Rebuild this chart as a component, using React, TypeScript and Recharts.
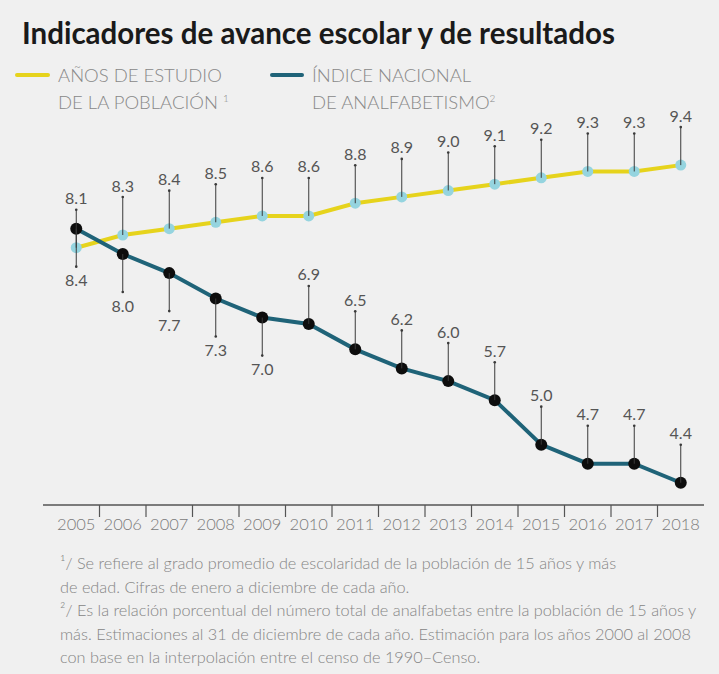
import React from 'react';
import { LineChart, Line, XAxis, YAxis, LabelList } from 'recharts';

const years = ['2005', '2006', '2007', '2008', '2009', '2010', '2011', '2012', '2013', '2014', '2015', '2016', '2017', '2018'];
const anosEstudio = [8.1, 8.3, 8.4, 8.5, 8.6, 8.6, 8.8, 8.9, 9.0, 9.1, 9.2, 9.3, 9.3, 9.4];
const analfabetismo = [8.4, 8.0, 7.7, 7.3, 7.0, 6.9, 6.5, 6.2, 6.0, 5.7, 5.0, 4.7, 4.7, 4.4];
// years whose illiteracy label sits under the point
const labelsBelow = ['2005', '2006', '2007', '2008', '2009'];

const notes = [
  '¹/ Se refiere al grado promedio de escolaridad de la población de 15 años y más',
  'de edad. Cifras de enero a diciembre de cada año.',
  '²/ Es la relación porcentual del número total de analfabetas entre la población de 15 años y',
  'más. Estimaciones al 31 de diciembre de cada año. Estimación para los años 2000 al 2008',
  'con base en la interpolación entre el censo de 1990–Censo.',
];

const data = years.map((y, i) => ({
  year: y,
  anos: anosEstudio[i],
  indice: analfabetismo[i],
}));

const FONT = 'Lato, "Open Sans", sans-serif';
const YELLOW = '#e6d31c';
const TEAL = '#1f6378';
const LEAD = 38;
const STEP = 46.5;

function leaderLabel(props: any, below: boolean) {
  const { x, y, value } = props;
  if (x == null || y == null) return null;
  const end = below ? y + LEAD : y - LEAD;
  const ty = below ? end + 13 : end - 12;
  return (
    <g>
      <line x1={x} y1={y} x2={x} y2={end} stroke="#3a3a3a" strokeWidth={1} />
      <circle cx={x} cy={end} r={1.3} fill="#3a3a3a" />
      <text
        x={x}
        y={ty}
        textAnchor="middle"
        dominantBaseline="central"
        fontFamily={FONT}
        fontSize={16}
        fill="#555"
      >
        {Number(value).toFixed(1)}
      </text>
    </g>
  );
}

function YellowLabel(props: any) {
  return leaderLabel(props, false);
}

function TealLabel(props: any) {
  const below = labelsBelow.includes(years[props.index]);
  return leaderLabel(props, below);
}

function YearTick(props: any) {
  const { x, y, payload, index } = props;
  const last = index === years.length - 1;
  return (
    <g>
      {!last && (
        <line x1={x + STEP / 2} y1={y} x2={x + STEP / 2} y2={y + 12} stroke="#555" strokeWidth={1.2} />
      )}
      <text
        x={x}
        y={y + 19}
        textAnchor="middle"
        dominantBaseline="central"
        fontFamily={FONT}
        fontSize={16.5}
        fontWeight={300}
        fill="#7a7a7a"
      >
        {payload.value}
      </text>
    </g>
  );
}

function YellowDot(props: any) {
  const { cx, cy } = props;
  if (cx == null || cy == null) return null;
  return <circle cx={cx} cy={cy} r={5.5} fill="#95d4df" />;
}

function TealDot(props: any) {
  const { cx, cy } = props;
  if (cx == null || cy == null) return null;
  return <circle cx={cx} cy={cy} r={6} fill="#0d0d0d" />;
}

export default function App() {
  return (
    <div
      style={{
        position: 'absolute',
        left: 0,
        top: 0,
        width: 719,
        height: 674,
        background: '#f0f0f0',
        fontFamily: FONT,
        overflow: 'hidden',
      }}
    >
      <div
        style={{
          position: 'absolute',
          left: 22,
          top: 16,
          fontSize: 29.5,
          lineHeight: '34px',
          fontWeight: 700,
          color: '#1a1a1a',
          whiteSpace: 'nowrap',
        }}
      >
        Indicadores de avance escolar y de resultados
      </div>

      <div style={{ position: 'absolute', left: 15, top: 73, width: 35, height: 4, background: YELLOW, borderRadius: 2 }} />
      <div
        style={{
          position: 'absolute',
          left: 58,
          top: 64,
          fontSize: 18.5,
          lineHeight: '23px',
          fontWeight: 300,
          color: '#888',
          whiteSpace: 'nowrap',
        }}
      >
        AÑOS DE ESTUDIO
        <br />
        DE LA POBLACIÓN <sup style={{ fontSize: 10 }}>1</sup>
      </div>

      <div style={{ position: 'absolute', left: 270, top: 73, width: 34, height: 4, background: TEAL, borderRadius: 2 }} />
      <div
        style={{
          position: 'absolute',
          left: 312,
          top: 64,
          fontSize: 18.5,
          lineHeight: '23px',
          fontWeight: 300,
          color: '#888',
          whiteSpace: 'nowrap',
        }}
      >
        ÍNDICE NACIONAL
        <br />
        DE ANALFABETISMO<sup style={{ fontSize: 10 }}>2</sup>
      </div>

      <div style={{ position: 'absolute', left: 0, top: 0 }}>
        <LineChart width={719} height={560} data={data} margin={{ top: 127, right: 15, bottom: 25, left: 43 }}>
          <XAxis
            dataKey="year"
            height={30}
            padding={{ left: 33.25, right: 23.25 }}
            axisLine={{ stroke: '#555', strokeWidth: 1.5 }}
            tickLine={false}
            tickSize={0}
            tickMargin={0}
            interval={0}
            tick={<YearTick />}
          />
          <YAxis hide domain={[4.05, 10]} />
          <Line dataKey="anos" stroke="none" dot={false} activeDot={false} isAnimationActive={false}>
            <LabelList dataKey="anos" content={<YellowLabel />} />
          </Line>
          <Line dataKey="indice" stroke="none" dot={false} activeDot={false} isAnimationActive={false}>
            <LabelList dataKey="indice" content={<TealLabel />} />
          </Line>
          <Line
            dataKey="anos"
            stroke={YELLOW}
            strokeWidth={4}
            dot={<YellowDot />}
            activeDot={false}
            isAnimationActive={false}
          />
          <Line
            dataKey="indice"
            stroke={TEAL}
            strokeWidth={4}
            dot={<TealDot />}
            activeDot={false}
            isAnimationActive={false}
          />
        </LineChart>
      </div>

      <div
        style={{
          position: 'absolute',
          left: 60,
          top: 551,
          fontSize: 16.3,
          lineHeight: '23.5px',
          fontWeight: 300,
          color: '#858585',
          whiteSpace: 'nowrap',
        }}
      >
        {notes.map((n) => (
          <div key={n}>{n}</div>
        ))}
      </div>
    </div>
  );
}
